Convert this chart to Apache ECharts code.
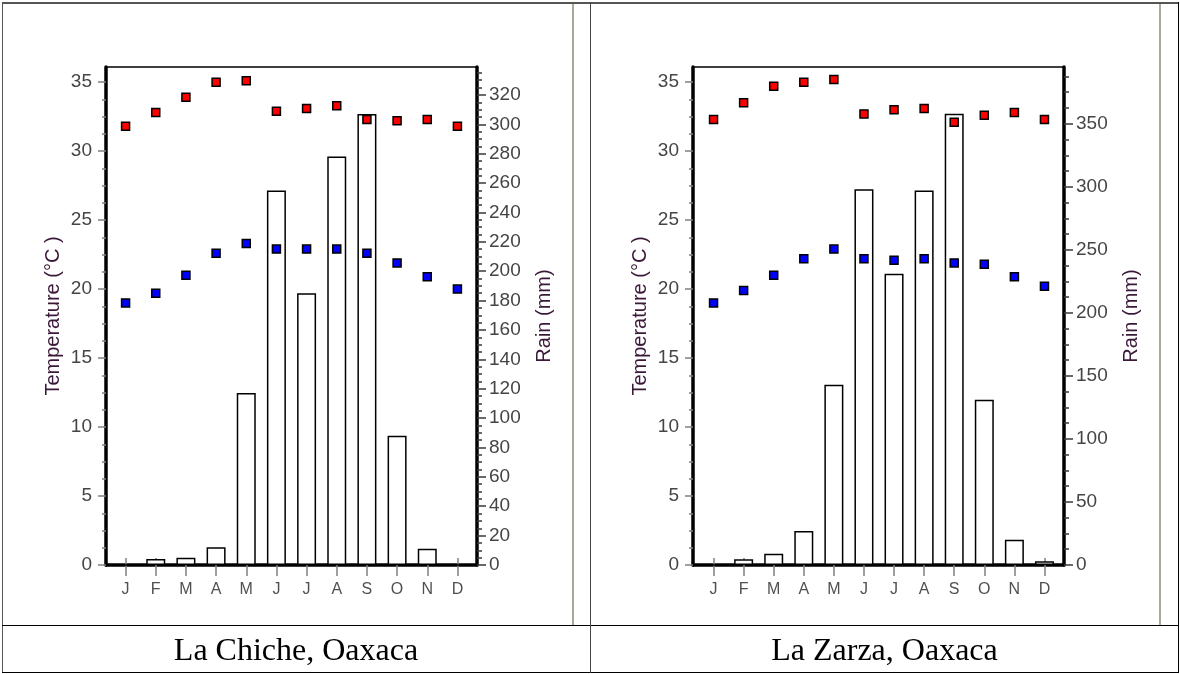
<!DOCTYPE html>
<html>
<head>
<meta charset="utf-8">
<script src="https://cdn.jsdelivr.net/npm/echarts@6/dist/echarts.min.js"></script>
<style>
  body { margin: 0; background: #fff; }
  .page { position: relative; width: 1180px; height: 674px; overflow: hidden; background: #fff; }
  .chart { position: absolute; top: 0; width: 573px; height: 625px; }
  .ln { position: absolute; background: #333; }
  .edge { position: absolute; background: #aca899; }
  .cap {
    position: absolute; top: 626px; height: 46px; line-height: 46px; text-align: center;
    font-family: "Times New Roman", "Liberation Serif", serif; font-size: 32px; color: #000;
  }
</style>
</head>
<body>
<div class="page">
  <div class="chart" id="chiche" style="left:0px"></div>
  <div class="chart" id="zarza" style="left:587px"></div>

  <div class="edge" style="left:572px;top:3px;width:2px;height:622px"></div>
  <div class="edge" style="left:1159px;top:3px;width:2px;height:622px"></div>

  <div class="ln" style="left:2px;top:2px;width:1177px;height:2px;background:#555"></div>
  <div class="ln" style="left:2px;top:2px;width:1px;height:671px;background:#555"></div>
  <div class="ln" style="left:1178px;top:2px;width:1px;height:671px;background:#000"></div>
  <div class="ln" style="left:2px;top:672px;width:1177px;height:1px;background:#000"></div>
  <div class="ln" style="left:2px;top:625px;width:1177px;height:1px;background:#000"></div>
  <div class="ln" style="left:590px;top:2px;width:1px;height:671px;background:#444"></div>

  <div class="cap" style="left:2px;width:588px">La Chiche, Oaxaca</div>
  <div class="cap" style="left:591px;width:587px">La Zarza, Oaxaca</div>
</div>

<script>
// months
const months = ['J', 'F', 'M', 'A', 'M', 'J', 'J', 'A', 'S', 'O', 'N', 'D'];

// La Chiche
const chicheRain = [0, 4, 5, 12, 117, 255, 185, 278, 307, 88, 11, 0];
const chicheTmax = [31.8, 32.8, 33.9, 35.0, 35.1, 32.9, 33.1, 33.3, 32.3, 32.2, 32.3, 31.8];
const chicheTmin = [19.0, 19.7, 21.0, 22.6, 23.3, 22.9, 22.9, 22.9, 22.6, 21.9, 20.9, 20.0];

// La Zarza
const zarzaRain = [0, 4.5, 9, 27, 143, 298, 231, 297, 358, 131, 20, 3];
const zarzaTmax = [32.3, 33.5, 34.7, 35.0, 35.2, 32.7, 33.0, 33.1, 32.1, 32.6, 32.8, 32.3];
const zarzaTmin = [19.0, 19.9, 21.0, 22.2, 22.9, 22.2, 22.1, 22.2, 21.9, 21.8, 20.9, 20.2];

// tick labels
const tempTicks = [0, 5, 10, 15, 20, 25, 30, 35];
const chicheRainTicks = [0, 20, 40, 60, 80, 100, 120, 140, 160, 180, 200, 220, 240, 260, 280, 300, 320];
const zarzaRainTicks = [0, 50, 100, 150, 200, 250, 300, 350];

const tempMax = 36.1;
const font = 'Arial, "Liberation Sans", sans-serif';

function minorOf(step, max) {
  let out = [];
  for (let v = 0; v <= max + 1e-9; v += step) out.push(Math.round(v * 1000) / 1000);
  return out;
}

function makeOption(rain, tmax, tmin, rainMax, rainTicks, rainMinorStep, innerLeft, innerWidth) {
  let tickGray = { color: '#808080', width: 1.5 };
  let tickDark = { color: '#3a3a3a', width: 1.5 };
  return {
    animation: false,
    grid: [
      { left: 106, top: 67, width: 371, height: 498, show: true, borderColor: '#000', borderWidth: 1.5, containLabel: false },
      { left: innerLeft, top: 67, width: innerWidth, height: 498, containLabel: false }
    ],
    xAxis: [
      {
        gridIndex: 0, type: 'value', min: 0, max: 1, position: 'bottom',
        axisLine: { show: true, onZero: false, lineStyle: { color: '#000', width: 3.5 } },
        axisTick: { show: false }, axisLabel: { show: false }, splitLine: { show: false }
      },
      {
        gridIndex: 1, type: 'category', data: months, boundaryGap: true, position: 'bottom',
        axisLine: { show: false },
        axisTick: { show: true, interval: 0, alignWithLabel: true, length: 11, lineStyle: tickGray },
        axisLabel: { interval: 0, color: '#505050', fontSize: 16, fontFamily: font, margin: 17 },
        splitLine: { show: false }
      },
      {
        gridIndex: 1, type: 'category', data: months, boundaryGap: true, position: 'bottom',
        axisLine: { show: false },
        axisTick: { show: true, inside: true, interval: 0, alignWithLabel: true, length: 7, lineStyle: tickGray },
        axisLabel: { show: false }, splitLine: { show: false }
      }
    ],
    yAxis: [
      {
        gridIndex: 0, type: 'value', position: 'left', min: 0, max: tempMax,
        axisLine: { show: true, onZero: false, lineStyle: { color: '#000', width: 3.5 } },
        axisTick: { show: true, customValues: tempTicks, length: 8, lineStyle: tickGray },
        axisLabel: { customValues: tempTicks, color: '#454545', fontSize: 19, fontFamily: font, margin: 14 },
        splitLine: { show: false },
        name: 'Temperature (°C )', nameLocation: 'middle', nameGap: 43, nameMoveOverlap: false,
        nameTextStyle: { color: '#3a1838', fontSize: 20, fontFamily: font }
      },
      {
        gridIndex: 0, type: 'value', position: 'left', min: 0, max: tempMax,
        axisLine: { show: false },
        axisTick: { show: true, customValues: minorOf(1.25, 35), length: 4, lineStyle: tickGray },
        axisLabel: { show: false }, splitLine: { show: false }
      },
      {
        gridIndex: 0, type: 'value', position: 'right', min: 0, max: rainMax,
        axisLine: { show: true, onZero: false, lineStyle: { color: '#000', width: 3.5 } },
        axisTick: { show: true, customValues: rainTicks, length: 9, lineStyle: tickDark },
        axisLabel: { customValues: rainTicks, color: '#454545', fontSize: 19, fontFamily: font, margin: 12 },
        splitLine: { show: false },
        name: 'Rain (mm)', nameLocation: 'middle', nameGap: 57, nameRotate: 90, nameMoveOverlap: false,
        nameTextStyle: { color: '#3a1838', fontSize: 20, fontFamily: font }
      },
      {
        gridIndex: 0, type: 'value', position: 'right', min: 0, max: rainMax,
        axisLine: { show: false },
        axisTick: { show: true, customValues: minorOf(rainMinorStep, rainMax), length: 5, lineStyle: tickDark },
        axisLabel: { show: false }, splitLine: { show: false }
      },
      { gridIndex: 1, type: 'value', position: 'left', min: 0, max: tempMax, show: false },
      { gridIndex: 1, type: 'value', position: 'right', min: 0, max: rainMax, show: false }
    ],
    series: [
      {
        type: 'bar', xAxisIndex: 1, yAxisIndex: 5, data: rain, barWidth: 19, z: 2,
        itemStyle: { color: '#fff', borderColor: '#000', borderWidth: 1.5 }
      },
      {
        type: 'scatter', xAxisIndex: 1, yAxisIndex: 4, data: tmax, symbol: 'rect', symbolSize: 8, z: 4,
        itemStyle: { color: '#ff0000', borderColor: '#000', borderWidth: 1.5, opacity: 1 }
      },
      {
        type: 'scatter', xAxisIndex: 1, yAxisIndex: 4, data: tmin, symbol: 'rect', symbolSize: 8, z: 4,
        itemStyle: { color: '#0000ff', borderColor: '#000', borderWidth: 1.5, opacity: 1 }
      }
    ]
  };
}

let chicheChart = echarts.init(document.getElementById('chiche'));
chicheChart.setOption(makeOption(chicheRain, chicheTmax, chicheTmin, 339, chicheRainTicks, 5, 110.5, 362));

let zarzaChart = echarts.init(document.getElementById('zarza'));
zarzaChart.setOption(makeOption(zarzaRain, zarzaTmax, zarzaTmin, 395, zarzaRainTicks, 12.5, 111.5, 361));
</script>
</body>
</html>
